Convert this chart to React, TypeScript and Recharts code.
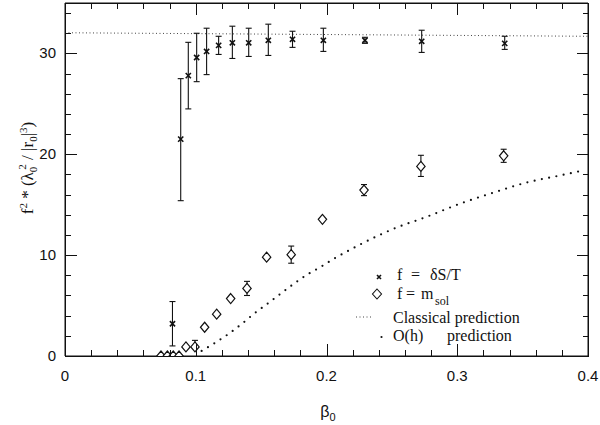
import { ComposedChart, Scatter, Line, XAxis, YAxis, ErrorBar, ReferenceLine } from 'recharts'

// axis ticks (major every 0.1 / 10, minor in between)
const xTicks = [0, 0.02, 0.04, 0.06, 0.08, 0.1, 0.12, 0.14, 0.16, 0.18, 0.2, 0.22, 0.24, 0.26, 0.28, 0.3, 0.32, 0.34, 0.36, 0.38, 0.4]
const yTicks = [0, 2, 4, 6, 8, 10, 12, 14, 16, 18, 20, 22, 24, 26, 28, 30, 32, 34]
const xDomain = [0, 0.4]
const yDomain = [0, 35]

// f = dS/T  (crosses), value with lower / upper end of error bar
const crossBeta = [0.0822, 0.0885, 0.0943, 0.1007, 0.1083, 0.1175, 0.128, 0.1405, 0.1555, 0.174, 0.1976, 0.2294, 0.2728, 0.3363]
const crossVal = [3.2, 21.5, 27.8, 29.6, 30.2, 30.8, 31.05, 31.05, 31.3, 31.4, 31.3, 31.3, 31.2, 31.0]
const crossLo = [1.0, 15.4, 24.5, 27.2, 27.9, 29.9, 29.5, 29.7, 29.8, 30.6, 30.2, 31.0, 30.1, 30.4]
const crossHi = [5.4, 27.5, 31.1, 32.0, 32.5, 31.7, 32.7, 32.5, 32.9, 32.2, 32.5, 31.6, 32.3, 31.7]

// f = m_sol  (diamonds)
const diamondBeta = [0.0734, 0.0783, 0.0828, 0.0872, 0.0925, 0.0994, 0.1068, 0.116, 0.1267, 0.1392, 0.1542, 0.173, 0.1969, 0.2287, 0.2722, 0.3355]
const diamondVal = [0, 0, 0, 0, 0.9, 0.9, 2.85, 4.15, 5.7, 6.7, 9.8, 10.05, 13.55, 16.45, 18.8, 19.85]
const diamondLo = [0, 0, 0, 0, 0.9, 0.9, 2.85, 4.15, 5.7, 6.0, 9.8, 9.2, 13.55, 15.9, 17.8, 19.2]
const diamondHi = [0, 0, 0, 0, 0.9, 1.55, 2.85, 4.15, 5.7, 7.4, 9.8, 10.9, 13.55, 17.0, 19.9, 20.5]

// classical prediction (fine dotted)
const classBeta = [0, 0.4]
const classVal = [32.05, 31.7]

// O(h) prediction (coarse dotted)
const ohBeta = [0.1045, 0.1147, 0.125, 0.1351, 0.1448, 0.155, 0.1652, 0.1754, 0.1856, 0.1958, 0.206, 0.2162, 0.2264, 0.2511, 0.2766, 0.3021, 0.3276, 0.3531, 0.3786, 0.3964]
const ohVal = [0.5, 1.3, 2.18, 3.17, 4.22, 5.2, 6.2, 7.2, 8.1, 8.85, 9.67, 10.4, 11.1, 12.6, 13.8, 15.1, 16.2, 17.2, 17.9, 18.4]

const crossData = crossBeta.map((x, i) => ({ x, y: crossVal[i], err: [crossVal[i] - crossLo[i], crossHi[i] - crossVal[i]] }))
const diamondData = diamondBeta.map((x, i) => ({ x, y: diamondVal[i], err: [diamondVal[i] - diamondLo[i], diamondHi[i] - diamondVal[i]] }))
const classData = classBeta.map((x, i) => ({ x, y: classVal[i] }))
const ohData = ohBeta.map((x, i) => ({ x, y: ohVal[i] }))

const INK = '#111'
const SANS = '"Liberation Sans", Arial, sans-serif'
const SERIF = '"Liberation Serif", "Times New Roman", serif'

// chart box: margins + axis sizes give the plot frame
const W = 600
const H = 425
const MARGIN = { top: 3, right: 12, bottom: 9, left: 20 }
const Y_AXIS_W = 45
const X_AXIS_H = 60
const plotL = MARGIN.left + Y_AXIS_W
const plotR = W - MARGIN.right
const plotT = MARGIN.top
const plotB = H - MARGIN.bottom - X_AXIS_H

const isMajorX = (v: number) => Math.abs(v * 10 - Math.round(v * 10)) < 1e-6
const isMajorY = (v: number) => v % 10 === 0
const sx = (v: number) => plotL + ((v - xDomain[0]) / (xDomain[1] - xDomain[0])) * (plotR - plotL)
const sy = (v: number) => plotB - ((v - yDomain[0]) / (yDomain[1] - yDomain[0])) * (plotB - plotT)

function BottomLabel({ x, y, payload }: any) {
  if (!isMajorX(payload.value)) return <g />
  return (
    <text x={x} y={y + 25} textAnchor="middle" fontFamily={SANS} fontSize={15} fill={INK}>
      {String(Math.round(payload.value * 10) / 10)}
    </text>
  )
}

function LeftLabel({ x, y, payload }: any) {
  if (!isMajorY(payload.value)) return <g />
  return (
    <text x={x - 9} y={y + 5} textAnchor="end" fontFamily={SANS} fontSize={15} fill={INK}>
      {payload.value}
    </text>
  )
}

function CrossMark({ cx, cy, r = 2.6 }: any) {
  return (
    <path
      d={`M${cx - r},${cy - r}L${cx + r},${cy + r}M${cx - r},${cy + r}L${cx + r},${cy - r}`}
      stroke={INK}
      strokeWidth={1.6}
    />
  )
}

function DiamondMark({ cx, cy }: any) {
  return (
    <polygon
      points={`${cx},${cy - 5} ${cx + 4.2},${cy} ${cx},${cy + 5} ${cx - 4.2},${cy}`}
      fill="#fff"
      stroke={INK}
      strokeWidth={1.2}
    />
  )
}

// frame + inward ticks as plain HTML boxes
function HtmlFrame() {
  const box = (key: string, left: number, top: number, width: number, height: number) => (
    <div key={key} style={{ position: 'absolute', left, top, width, height, background: INK }} />
  )
  const items: any[] = []
  items.push(box('ft', plotL, plotT, plotR - plotL + 1, 1))
  items.push(box('fb', plotL, plotB, plotR - plotL + 1, 1))
  items.push(box('fl', plotL, plotT, 1, plotB - plotT + 1))
  items.push(box('fr', plotR, plotT, 1, plotB - plotT + 1))
  xTicks.forEach((v, i) => {
    const len = isMajorX(v) ? 12 : 6
    const px = Math.round(sx(v))
    items.push(box('xb' + i, px, plotB - len, 1, len))
    items.push(box('xt' + i, px, plotT, 1, len))
  })
  yTicks.forEach((v, i) => {
    const len = isMajorY(v) ? 12 : 6
    const py = Math.round(sy(v))
    items.push(box('yl' + i, plotL, py, len, 1))
    items.push(box('yr' + i, plotR - len + 1, py, len, 1))
  })
  return <div style={{ position: 'absolute', left: 0, top: 0, width: W, height: H, pointerEvents: 'none' }}>{items}</div>
}

function Overlay() {
  return (
    <svg width={W} height={H} style={{ position: 'absolute', left: 0, top: 0, pointerEvents: 'none' }}>
      {/* y label */}
      <text transform="translate(33,168) rotate(-90)" textAnchor="middle" fontFamily={SERIF} fontSize={17} fill={INK}>
        f<tspan dy={-6} fontSize={11}>2</tspan>
        <tspan dy={6}> * (λ</tspan>
        <tspan dy={4} fontSize={11}>0</tspan>
        <tspan dy={-11} dx={-3} fontSize={11}>2</tspan>
        <tspan dy={7}> / |r</tspan>
        <tspan dy={4} fontSize={11}>0</tspan>
        <tspan dy={-4}>|</tspan>
        <tspan dy={-6} fontSize={11}>3</tspan>
        <tspan dy={6}>)</tspan>
      </text>
      {/* x label */}
      <text x={328} y={417} textAnchor="middle" fontFamily={SANS} fontSize={16} fill={INK}>
        β<tspan dy={4} fontSize={11}>0</tspan>
      </text>

      {/* legend */}
      <g fontFamily={SERIF} fontSize={16} fill={INK}>
        <CrossMark cx={379} cy={277} r={2} />
        <text x={397} y={280}>f</text>
        <text x={411} y={280}>=</text>
        <text x={430} y={280}>δS/T</text>

        <polygon points="377,289 381.5,294 377,299 372.5,294" fill="#fff" stroke={INK} strokeWidth={1.1} />
        <text x={397} y={299}>f</text>
        <text x={406} y={299}>=</text>
        <text x={421} y={299}>m</text>
        <text x={435} y={305} fontSize={12}>sol</text>

        <path d="M356,317H372" stroke="#444" strokeWidth={1} strokeDasharray="1 2.5" />
        <text x={393} y={323}>Classical prediction</text>

        <circle cx={381.5} cy={337} r={1.1} fill={INK} />
        <text x={393} y={341}>O(h)</text>
        <text x={447} y={341}>prediction</text>
      </g>
    </svg>
  )
}

export default function App() {
  return (
    <div style={{ position: 'absolute', left: 0, top: 0, width: W, height: H, background: '#fff' }}>
      <ComposedChart width={W} height={H} margin={MARGIN}>
        <XAxis
          type="number"
          dataKey="x"
          domain={xDomain}
          allowDataOverflow
          ticks={xTicks}
          interval={0}
          height={X_AXIS_H}
          tickSize={0}
          tickMargin={0}
          tickLine={false}
          axisLine={{ stroke: INK }}
          tick={<BottomLabel />}
        />
        <YAxis
          type="number"
          domain={yDomain}
          allowDataOverflow
          ticks={yTicks}
          interval={0}
          width={Y_AXIS_W}
          tickSize={0}
          tickMargin={0}
          tickLine={false}
          axisLine={{ stroke: INK }}
          tick={<LeftLabel />}
        />
        <ReferenceLine y={35} stroke={INK} ifOverflow="visible" />
        <ReferenceLine x={0.4} stroke={INK} ifOverflow="visible" />

        <Line
          data={classData}
          dataKey="y"
          type="linear"
          stroke="#444"
          strokeWidth={1}
          strokeDasharray="1 2.5"
          dot={false}
          isAnimationActive={false}
        />
        <Line
          data={ohData}
          dataKey="y"
          type="monotone"
          stroke={INK}
          strokeWidth={2.2}
          strokeDasharray="0 7.4"
          strokeLinecap="round"
          dot={false}
          isAnimationActive={false}
        />
        <Scatter
          data={crossData}
          dataKey="y"
          shape={(p: any) => <CrossMark cx={p.cx} cy={p.cy} />}
          isAnimationActive={false}
        >
          <ErrorBar dataKey="err" direction="y" width={3} stroke={INK} strokeWidth={1.1} isAnimationActive={false} />
        </Scatter>
        <Scatter
          data={diamondData}
          dataKey="y"
          shape={(p: any) => <DiamondMark cx={p.cx} cy={p.cy} />}
          isAnimationActive={false}
        >
          <ErrorBar dataKey="err" direction="y" width={3} stroke={INK} strokeWidth={1.1} isAnimationActive={false} />
        </Scatter>
      </ComposedChart>
      <HtmlFrame />
      <Overlay />
    </div>
  )
}
